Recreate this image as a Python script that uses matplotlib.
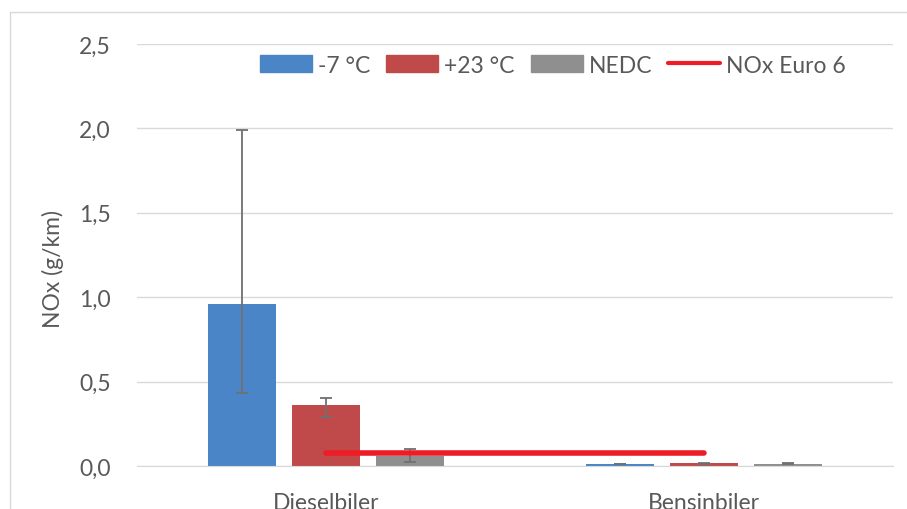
import numpy as np
import matplotlib
matplotlib.use('Agg')
import matplotlib.pyplot as plt
from matplotlib.patches import Patch, Rectangle
from matplotlib.lines import Line2D

plt.rcParams['font.family'] = ['Lato', 'DejaVu Sans']

# Data
categories = ['Dieselbiler', 'Bensinbiler']
minus7 = [0.96, 0.011]
minus7_lo = [0.43, 0.009]
minus7_hi = [1.99, 0.013]
plus23 = [0.36, 0.016]
plus23_lo = [0.29, 0.012]
plus23_hi = [0.40, 0.020]
nedc = [0.06, 0.012]
nedc_lo = [0.025, 0.009]
nedc_hi = [0.10, 0.018]
euro6 = [0.08, 0.08]

c_blue = '#4a85c7'
c_red = '#c0494a'
c_gray = '#8f8f8f'
c_line = '#ee1c25'
c_text = '#595959'
c_grid = '#d9d9d9'
fs = 16.5

fig = plt.figure(figsize=(9.07, 5.10), dpi=100)
ax = fig.add_axes([0.151, 0.0843, 0.834, 0.8275])

x = np.arange(len(categories))
width = 0.18
step = 0.222

series = [
    (minus7, minus7_lo, minus7_hi, c_blue, -step),
    (plus23, plus23_lo, plus23_hi, c_red, 0),
    (nedc, nedc_lo, nedc_hi, c_gray, step),
]
for vals, lo, hi, col, off in series:
    vals = np.array(vals)
    err = [vals - np.array(lo), np.array(hi) - vals]
    ax.bar(x + off, vals, width, color=col, zorder=2)
    ax.errorbar(x + off, vals, yerr=err, fmt='none', ecolor='#707070',
                elinewidth=1.3, capsize=4.3, capthick=1.3, zorder=3)

ax.plot(x, euro6, color=c_line, lw=4, solid_capstyle='round', zorder=4)

ax.set_xlim(-0.5, 1.5)
ax.set_ylim(0, 2.5)
ticks = np.arange(0, 2.51, 0.5)
ax.set_yticks(ticks)
ax.set_yticklabels([f'{v:.1f}'.replace('.', ',') for v in ticks])
ax.set_xticks(x)
ax.set_xticklabels(categories)
ax.tick_params(axis='y', length=0, pad=19, labelsize=fs, labelcolor=c_text)
ax.tick_params(axis='x', length=0, pad=19, labelsize=fs, labelcolor=c_text)
ax.grid(axis='y', color=c_grid, lw=1, zorder=0)
for s in ['top', 'right', 'left']:
    ax.spines[s].set_visible(False)
ax.spines['bottom'].set_color(c_grid)
ax.set_ylabel('NOx (g/km)', fontsize=fs, color=c_text, labelpad=11, y=0.47)

handles = [Patch(color=c_blue), Patch(color=c_red), Patch(color=c_gray),
           Line2D([0], [0], color=c_line, lw=3, solid_capstyle='round')]
labels = ['-7 °C', '+23 °C', 'NEDC', 'NOx Euro 6']
leg = ax.legend(handles, labels, loc='center', bbox_to_anchor=(0.55, 0.95),
                ncol=4, frameon=False, fontsize=fs, handlelength=2.27,
                handleheight=0.79, handletextpad=0.26, columnspacing=0.7)
for t in leg.get_texts():
    t.set_color(c_text)

fig.patches.append(Rectangle((10 / 907, -0.1), 2, 1.1 - 13 / 510,
                             transform=fig.transFigure, fill=False,
                             edgecolor=c_grid, lw=1))

fig.savefig('out.png', dpi=100)
